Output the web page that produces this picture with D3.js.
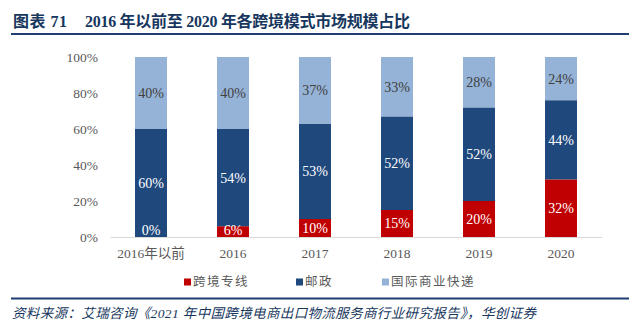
<!DOCTYPE html>
<html>
<head>
<meta charset="utf-8">
<script src="https://cdn.jsdelivr.net/npm/d3@7/dist/d3.min.js"></script>
<style>
  html, body { margin: 0; padding: 0; background: #fff; }
  svg { display: block; }
</style>
</head>
<body>
<svg id="chart" width="640" height="329"></svg>
<script>
// Market share of each cross-border logistics mode
const categories = ["2016年以前", "2016", "2017", "2018", "2019", "2020"];
const seriesNames = ["跨境专线", "邮政", "国际商业快递"];
const dedicatedLine = [0, 6, 10, 15, 20, 32];
const postal = [60, 54, 53, 52, 52, 44];
const commercialExpress = [40, 40, 37, 33, 28, 24];
const yTicks = [0, 20, 40, 60, 80, 100];

const colors = ["#C00000", "#1F497D", "#95B3D7"];
const labelColors = ["#ffffff", "#ffffff", "#404040"];
const serif = "'Liberation Serif', 'Times New Roman', 'Noto Sans CJK SC', serif";
const cjk = "'Liberation Serif', 'Noto Sans CJK SC', serif";

const svg = d3.select("#chart");

// Header
const titleStyle = sel => sel
  .attr("y", 27)
  .attr("fill", "#17375E")
  .attr("font-family", cjk)
  .attr("font-weight", "bold")
  .attr("font-size", 16);
svg.append("text").call(titleStyle)
  .attr("x", 13).attr("textLength", 54).attr("lengthAdjust", "spacing")
  .text("图表 71");
svg.append("text").call(titleStyle)
  .attr("x", 85).attr("textLength", 325).attr("lengthAdjust", "spacing")
  .text("2016 年以前至 2020 年各跨境模式市场规模占比");
svg.append("line")
  .attr("x1", 11).attr("x2", 629).attr("y1", 34).attr("y2", 34)
  .attr("stroke", "#1F3F73").attr("stroke-width", 2);

// Scales
const x = d3.scaleBand().domain(categories).range([110, 602])
  .paddingInner(0.61).paddingOuter(0.305);
const y = d3.scaleLinear().domain([0, 100]).range([237, 57]);

// Y axis (labels only)
const yAxis = d3.axisLeft(y).tickValues(yTicks).tickFormat(d => d + "%").tickSize(0).tickPadding(0);
const gy = svg.append("g").attr("transform", "translate(98,0)").call(yAxis);
gy.select(".domain").remove();
gy.selectAll("text")
  .attr("fill", "#595959")
  .attr("font-family", serif)
  .attr("font-size", 13.5);

// Stack data
const rows = categories.map((c, i) => ({
  cat: c,
  [seriesNames[0]]: dedicatedLine[i],
  [seriesNames[1]]: postal[i],
  [seriesNames[2]]: commercialExpress[i]
}));
const stacked = d3.stack().keys(seriesNames)(rows);

const layers = svg.append("g").selectAll("g")
  .data(stacked).join("g")
  .attr("fill", (d, i) => colors[i]);

layers.selectAll("rect")
  .data(d => d).join("rect")
  .attr("x", d => x(d.data.cat))
  .attr("width", x.bandwidth())
  .attr("y", d => y(d[1]))
  .attr("height", d => y(d[0]) - y(d[1]));

// Value labels
stacked.forEach((layer, li) => {
  svg.append("g").selectAll("text")
    .data(layer).join("text")
    .attr("x", d => x(d.data.cat) + x.bandwidth() / 2)
    .attr("y", d => Math.min((y(d[0]) + y(d[1])) / 2, y(d[0]) - 7))
    .attr("dy", "0.35em")
    .attr("text-anchor", "middle")
    .attr("fill", labelColors[li])
    .attr("font-family", serif)
    .attr("font-size", 14)
    .text(d => (d[1] - d[0]) + "%");
});

// X axis
const xAxis = d3.axisBottom(x).tickSize(0).tickPadding(11);
const gx = svg.append("g").attr("transform", "translate(0,237)").call(xAxis);
gx.select(".domain").attr("stroke", "#D9D9D9").attr("stroke-width", 1.2);
gx.selectAll("text")
  .attr("fill", "#595959")
  .attr("font-family", cjk)
  .attr("font-size", 13.5);

// Legend
const legendX = [184, 296, 382];
const lg = svg.append("g").selectAll("g")
  .data(seriesNames).join("g")
  .attr("transform", (d, i) => `translate(${legendX[i]},282)`);
lg.append("rect")
  .attr("x", 0).attr("y", -3.5).attr("width", 7).attr("height", 7)
  .attr("fill", (d, i) => colors[i]);
lg.append("text")
  .attr("x", 9).attr("dy", "0.35em")
  .attr("fill", "#595959")
  .attr("font-family", cjk)
  .attr("font-size", 12.5)
  .attr("letter-spacing", 1.5)
  .text(d => d);

// Footer
svg.append("line")
  .attr("x1", 11).attr("x2", 629).attr("y1", 298.5).attr("y2", 298.5)
  .attr("stroke", "#1F3F73").attr("stroke-width", 2);
svg.append("text")
  .attr("x", 12).attr("y", 318)
  .attr("fill", "#17375E")
  .attr("font-family", cjk)
  .attr("font-style", "italic")
  .attr("font-size", 13.5)
  .attr("textLength", 524).attr("lengthAdjust", "spacing")
  .text("资料来源：艾瑞咨询《2021 年中国跨境电商出口物流服务商行业研究报告》，华创证券");
</script>
</body>
</html>
